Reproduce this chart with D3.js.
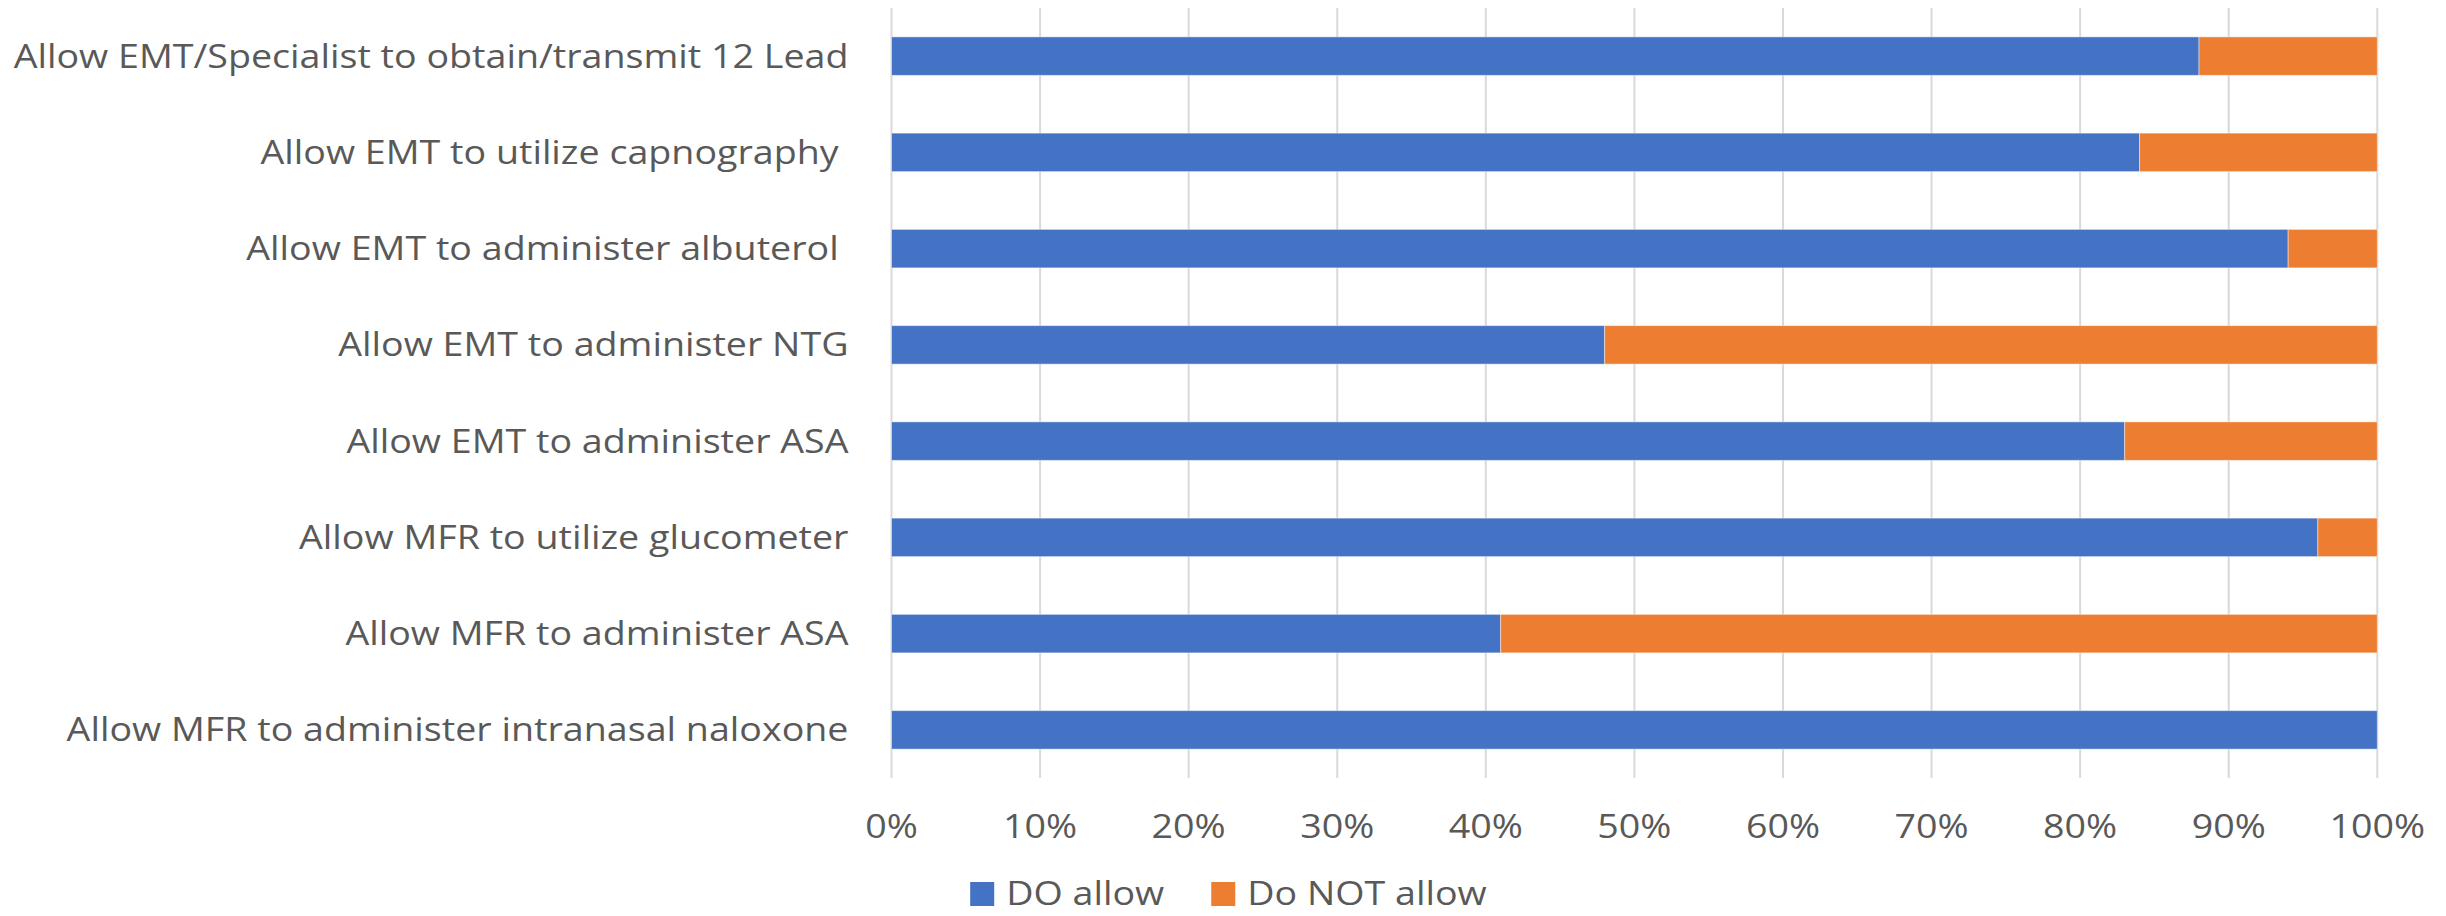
<!DOCTYPE html>
<html>
<head>
<meta charset="utf-8">
<script src="https://cdn.jsdelivr.net/npm/d3@7"></script>
<style>
  html, body { margin: 0; padding: 0; background: #fff; }
  svg { display: block; }
  text { font-family: "Open Sans", "Noto Sans", sans-serif; fill: #595959; white-space: pre; }
</style>
</head>
<body>
<svg id="chart" width="2446" height="916"></svg>
<script>
// ---- data ----
const categories = [
  "Allow EMT/Specialist to obtain/transmit 12 Lead",
  "Allow EMT to utilize capnography ",
  "Allow EMT to administer albuterol ",
  "Allow EMT to administer NTG",
  "Allow EMT to administer ASA",
  "Allow MFR to utilize glucometer",
  "Allow MFR to administer ASA",
  "Allow MFR to administer intranasal naloxone"
];
const seriesNames = ["DO allow", "Do NOT allow"];
const doAllow    = [88, 84, 94, 48, 83, 96, 41, 100];
const doNotAllow = [12, 16, 6, 52, 17, 4, 59, 0];
const tickValues = [0, 10, 20, 30, 40, 50, 60, 70, 80, 90, 100];
const tickLabels = ["0%", "10%", "20%", "30%", "40%", "50%", "60%", "70%", "80%", "90%", "100%"];
const colors = ["#4472C4", "#ED7D31"];

// ---- layout ----
const W = 2446, H = 916;
const plot = { left: 891.5, right: 2377.3, top: 8, bottom: 778 };
const fontSize = 32;
const capH = fontSize * 0.714;

const svg = d3.select("#chart");

const x = d3.scaleLinear().domain([0, 100]).range([plot.left, plot.right]);
const y = d3.scaleBand().domain(categories).range([plot.top, plot.bottom])
  .paddingInner(0.6).paddingOuter(0.3);

// horizontal squeeze to emulate Calibri metrics
const probe = svg.append("text").attr("font-size", fontSize).text(categories[0]);
const kx = 835 / probe.node().getComputedTextLength();
probe.remove();

function label(g, tx, ty, str, anchor) {
  return g.append("g")
    .attr("transform", `translate(${tx},${ty}) scale(${kx},1)`)
    .append("text")
    .attr("font-size", fontSize)
    .attr("text-anchor", anchor)
    .text(str);
}

// gridlines
const grid = svg.append("g");
grid.selectAll("line").data(tickValues).join("line")
  .attr("x1", d => x(d)).attr("x2", d => x(d))
  .attr("y1", plot.top).attr("y2", plot.bottom)
  .attr("stroke", "#d9d9d9").attr("stroke-width", 2);

// stacked bars
const rows = categories.map((c, i) => ({ cat: c, a: doAllow[i], b: doNotAllow[i] }));
const stack = d3.stack().keys(["a", "b"])(rows);
const bars = svg.append("g");
stack.forEach((layer, li) => {
  bars.append("g").attr("fill", colors[li])
    .selectAll("rect").data(layer).join("rect")
    .attr("x", d => x(d[0]))
    .attr("width", d => Math.max(0, x(d[1]) - x(d[0])))
    .attr("y", d => y(d.data.cat))
    .attr("height", y.bandwidth())
    .attr("stroke", "#ffffff").attr("stroke-opacity", 0.45).attr("stroke-width", 1);
});

// category labels
const catG = svg.append("g");
categories.forEach(c => {
  label(catG, 848.5, y(c) + y.bandwidth() / 2 + capH / 2, c, "end");
});

// x tick labels
const tickG = svg.append("g");
tickValues.forEach((v, i) => {
  label(tickG, x(v), 827 + capH / 2, tickLabels[i], "middle");
});

// legend
const legG = svg.append("g");
const sq = 24, gapText = 12, gapItem = 47;
const widths = seriesNames.map(n => {
  const t = svg.append("text").attr("font-size", fontSize).text(n);
  const w = t.node().getComputedTextLength() * kx;
  t.remove();
  return w;
});
const total = widths.reduce((s, w) => s + sq + gapText + w, 0) + gapItem * (seriesNames.length - 1);
let lx = 1228.5 - total / 2;
const legY = 894;
seriesNames.forEach((n, i) => {
  legG.append("rect").attr("x", lx).attr("y", legY - sq / 2).attr("width", sq).attr("height", sq)
    .attr("fill", colors[i]);
  label(legG, lx + sq + gapText, legY + capH / 2, n, "start");
  lx += sq + gapText + widths[i] + gapItem;
});
</script>
</body>
</html>
